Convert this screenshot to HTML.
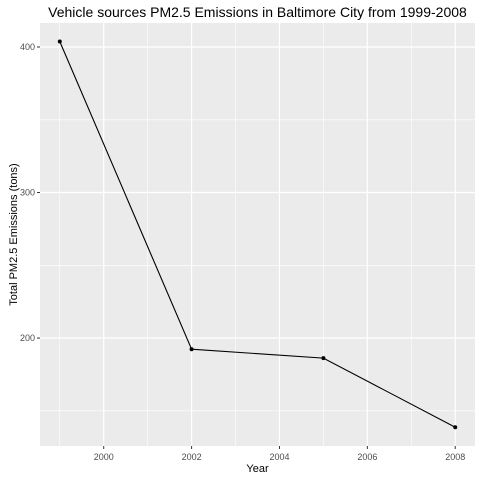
<!DOCTYPE html>
<html><head><meta charset="utf-8"><style>
body{margin:0;background:#fff;font-family:"Liberation Sans",Arial,sans-serif}
svg text{font-family:"Liberation Sans",Arial,sans-serif}
</style></head><body>
<svg id="chart" width="480" height="480">
<rect x="0" y="0" width="480" height="480" fill="#fff"/>
</svg>
<script>
const years=[1999,2002,2005,2008];
const emissions=[403.8,192.3,186.2,138.7];
const xTicks=[2000,2002,2004,2006,2008];
const yTicks=[200,300,400];
const NS="http://www.w3.org/2000/svg";
const svg=document.getElementById('chart');
const L=40,R=475,T=23,B=446;
const xMin=1998.55,xMax=2008.45,yMin=125.8,yMax=416.5;
const xs=v=>L+(v-xMin)/(xMax-xMin)*(R-L);
const ys=v=>B-(v-yMin)/(yMax-yMin)*(B-T);
function mk(t,a,p){const e=document.createElementNS(NS,t);for(const k in a)e.setAttribute(k,a[k]);(p||svg).appendChild(e);return e;}
const panel=mk('rect',{x:L,y:T,width:R-L,height:B-T,fill:'#ebebeb'});


// minor grid
for(let i=0;i<xTicks.length+1;i++){const v=xTicks[0]-1+2*i;if(v>xMin&&v<xMax){const g=mk('line',{x1:xs(v),x2:xs(v),y1:T,y2:B,stroke:'#fff','stroke-width':0.6});}}
for(let i=0;i<yTicks.length+1;i++){const v=yTicks[0]-50+100*i;if(v>yMin&&v<yMax){const g=mk('line',{x1:L,x2:R,y1:ys(v),y2:ys(v),stroke:'#fff','stroke-width':0.6});}}
xTicks.forEach(v=>{const x=xs(v);
const g=mk('line',{x1:x,x2:x,y1:T,y2:B,stroke:'#fff','stroke-width':1.2});
mk('line',{x1:x,x2:x,y1:B,y2:B+3,stroke:'#333','stroke-width':1});
const t=mk('text',{x:x,y:B+14,'text-anchor':'middle','font-size':9,fill:'#4d4d4d'});t.textContent=v;
});
yTicks.forEach(v=>{const y=ys(v);
const g=mk('line',{x1:L,x2:R,y1:y,y2:y,stroke:'#fff','stroke-width':1.2});
mk('line',{x1:L-3,x2:L,y1:y,y2:y,stroke:'#333','stroke-width':1});
const t=mk('text',{x:L-5,y:y+3,'text-anchor':'end','font-size':9,fill:'#4d4d4d'});t.textContent=v;
});
const line=mk('polyline',{points:years.map((y,i)=>xs(y)+','+ys(emissions[i])).join(' '),fill:'none',stroke:'#000','stroke-width':1.1});


years.forEach((y,i)=>{const c=mk('circle',{cx:xs(y),cy:ys(emissions[i]),r:2,fill:'#000'});

});
const title=mk('text',{x:(L+R)/2,y:17,'text-anchor':'middle','font-size':14,fill:'#000'});title.textContent='Vehicle sources PM2.5 Emissions in Baltimore City from 1999-2008';


const xt=mk('text',{x:(L+R)/2,y:472,'text-anchor':'middle','font-size':11,fill:'#000'});xt.textContent='Year';


const yt=mk('text',{x:0,y:0,'text-anchor':'middle','font-size':11,fill:'#000',transform:'translate(17,'+((T+B)/2)+') rotate(-90)'});yt.textContent='Total PM2.5 Emissions (tons)';


</script>
</body></html>
